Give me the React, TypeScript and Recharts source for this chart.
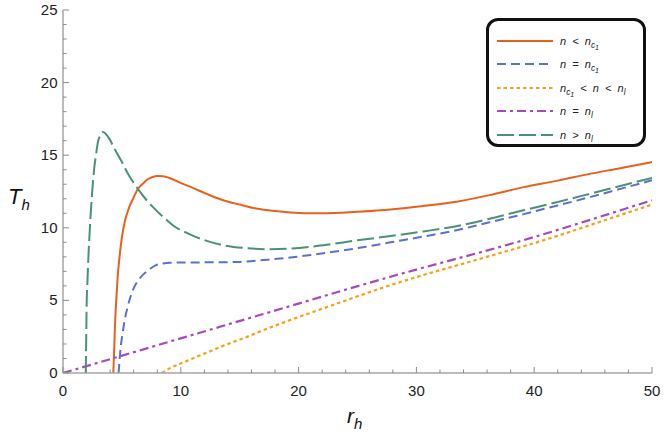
import { LineChart, Line, XAxis, YAxis, Legend, Label } from "recharts";

// n < n_c1
const lessR = [4.27, 4.35, 4.41, 4.52, 4.64, 4.8, 5.01, 5.3, 5.63, 6.0, 6.34, 6.8, 7.19, 7.6, 8.04, 8.5, 9.04, 10.03, 11.02, 12.3, 13.6, 15.0, 16.4, 18.0, 19.3, 20.7, 22.1, 23.5, 25.0, 27.8, 30.6, 33.4, 36.2, 39.1, 42.0, 44.8, 47.4, 50];
const lessT = [0, 1.7, 3.2, 5.0, 6.6, 8.0, 9.4, 10.6, 11.44, 12.1, 12.65, 13.05, 13.34, 13.5, 13.57, 13.55, 13.43, 13.08, 12.75, 12.3, 11.9, 11.6, 11.33, 11.15, 11.05, 11.0, 11.0, 11.03, 11.1, 11.26, 11.5, 11.8, 12.25, 12.8, 13.25, 13.73, 14.12, 14.53];

// n = n_c1
const critR = [4.72, 4.8, 4.9, 5.06, 5.25, 5.49, 5.75, 6.06, 6.45, 6.91, 7.4, 7.9, 8.5, 9.04, 10.0, 12.0, 15.0, 17.0, 19.3, 21.4, 23.5, 25.6, 27.8, 30.6, 33.4, 36.2, 39.1, 42.0, 44.8, 47.4, 50];
const critT = [0, 0.9, 1.8, 2.73, 3.7, 4.56, 5.3, 5.94, 6.45, 6.86, 7.18, 7.43, 7.54, 7.59, 7.61, 7.62, 7.65, 7.78, 7.95, 8.17, 8.41, 8.68, 9.0, 9.4, 9.83, 10.38, 10.94, 11.54, 12.13, 12.7, 13.27];

// n_c1 < n < n_l
const midR = [8.4, 9.0, 10.0, 11.0, 12.5, 14.0, 15.5, 17.0, 19.3, 21.4, 23.5, 25.6, 27.8, 30.6, 33.4, 36.2, 39.1, 42.0, 44.8, 47.4, 50];
const midT = [0, 0.3, 0.65, 1.0, 1.5, 2.0, 2.45, 2.95, 3.65, 4.25, 4.85, 5.45, 6.05, 6.75, 7.4, 8.05, 8.73, 9.45, 10.2, 10.9, 11.6];

// n = n_l
const eqLR = [0, 10.77, 16.7, 27.8, 39.1, 50];
const eqLT = [0, 2.57, 3.99, 6.63, 9.15, 11.9];

// n > n_l
const moreR = [1.93, 1.97, 2.0, 2.08, 2.17, 2.27, 2.37, 2.5, 2.65, 2.8, 2.94, 3.15, 3.36, 3.6, 3.93, 4.4, 4.92, 5.6, 6.34, 7.0, 7.62, 8.5, 9.32, 10.77, 12.2, 13.6, 15.5, 17.3, 19.3, 22.1, 25.0, 27.8, 30.6, 33.4, 36.2, 39.1, 42.0, 44.8, 47.4, 50];
const moreT = [0, 2.3, 4.33, 6.4, 8.23, 9.8, 11.2, 12.7, 14.1, 15.0, 15.8, 16.35, 16.6, 16.5, 16.14, 15.4, 14.65, 13.6, 12.7, 12.0, 11.44, 10.75, 10.18, 9.55, 9.1, 8.8, 8.6, 8.53, 8.57, 8.8, 9.14, 9.43, 9.75, 10.11, 10.62, 11.21, 11.78, 12.36, 12.9, 13.43];

const xTicks = [0, 2, 4, 6, 8, 10, 12, 14, 16, 18, 20, 22, 24, 26, 28, 30, 32, 34, 36, 38, 40, 42, 44, 46, 48, 50];
const yTicks = [0, 1, 2, 3, 4, 5, 6, 7, 8, 9, 10, 11, 12, 13, 14, 15, 16, 17, 18, 19, 20, 21, 22, 23, 24, 25];

const zip = (r: number[], t: number[]) => r.map((v, i) => ({ r: v, T: t[i] }));

const FONT = "'Liberation Sans', Arial, sans-serif";
const TICK = "#8c8c8c";

const series = [
  { key: "less", data: zip(lessR, lessT), color: "#e8611c", dash: undefined, width: 2 },
  { key: "crit", data: zip(critR, critT), color: "#5d6fcf", dash: "9 5", width: 2 },
  { key: "mid", data: zip(midR, midT), color: "#f7a116", dash: "3.5 3", width: 2.2 },
  { key: "eqL", data: zip(eqLR, eqLT), color: "#a848bf", dash: "9 4 3 4", width: 2.2 },
  { key: "more", data: zip(moreR, moreT), color: "#4b9177", dash: "17 5", width: 2 },
];

const Sub = ({ children }: { children: any }) => (
  <span style={{ fontSize: "0.75em", position: "relative", top: "0.35em" }}>{children}</span>
);
const Nc = () => (
  <>
    n
    <Sub>
      c<span style={{ fontSize: "0.85em", position: "relative", top: "0.3em" }}>1</span>
    </Sub>
  </>
);
const Nl = () => (
  <>
    n<Sub>l</Sub>
  </>
);

const labels = [
  <>n&nbsp;&nbsp;&lt;&nbsp;&nbsp;<Nc /></>,
  <>n&nbsp;&nbsp;=&nbsp;&nbsp;<Nc /></>,
  <><Nc />&nbsp;&nbsp;&lt;&nbsp;&nbsp;n&nbsp;&nbsp;&lt;&nbsp;&nbsp;<Nl /></>,
  <>n&nbsp;&nbsp;=&nbsp;&nbsp;<Nl /></>,
  <>n&nbsp;&nbsp;&gt;&nbsp;&nbsp;<Nl /></>,
];

const renderLegend = () => (
  <div
    style={{
      boxSizing: "border-box",
      width: 160,
      height: 129,
      border: "3px solid #111",
      borderRadius: 12,
      background: "#fff",
      padding: "8px 0 0 8px",
      fontFamily: FONT,
      fontStyle: "italic",
      fontSize: 11,
      color: "#222",
    }}
  >
    {series.map((s, i) => (
      <div key={s.key} style={{ display: "flex", alignItems: "center", height: 23.5 }}>
        <svg width={56} height={6} style={{ marginRight: 7 }}>
          <line x1={0} y1={3} x2={56} y2={3} stroke={s.color} strokeWidth={s.width} strokeDasharray={s.dash} />
        </svg>
        <span style={{ whiteSpace: "nowrap" }}>{labels[i]}</span>
      </div>
    ))}
  </div>
);

const BottomTick = (props: any) => {
  const { x, y, payload } = props;
  const major = payload.value % 10 === 0;
  return (
    <g>
      <line x1={x} y1={y} x2={x} y2={y - (major ? 6 : 3.5)} stroke={TICK} />
      {major && (
        <text x={x} y={y + 23} textAnchor="middle" fontFamily={FONT} fontSize={15} fill="#222">
          {payload.value}
        </text>
      )}
    </g>
  );
};
const TopTick = (props: any) => {
  const { x, y, payload } = props;
  const major = payload.value % 10 === 0;
  return <line x1={x} y1={y} x2={x} y2={y + (major ? 6 : 3.5)} stroke={TICK} />;
};
const LeftTick = (props: any) => {
  const { x, y, payload } = props;
  const major = payload.value % 5 === 0;
  return (
    <g>
      <line x1={x} y1={y} x2={x + (major ? 6 : 3.5)} y2={y} stroke={TICK} />
      {major && (
        <text x={x - 5.5} y={y + 5} textAnchor="end" fontFamily={FONT} fontSize={15} fill="#222">
          {payload.value}
        </text>
      )}
    </g>
  );
};
const RightTick = (props: any) => {
  const { x, y, payload } = props;
  const major = payload.value % 5 === 0;
  return <line x1={x} y1={y} x2={x - (major ? 6 : 3.5)} y2={y} stroke={TICK} />;
};

export default function App() {
  return (
    <div style={{ position: "absolute", left: 0, top: 0, width: 664, height: 440, background: "#fff" }}>
      <LineChart width={664} height={440} margin={{ top: 10, right: 12, bottom: 0, left: 0 }}>
        <XAxis
          dataKey="r"
          type="number"
          domain={[0, 50]}
          ticks={xTicks}
          interval={0}
          height={67}
          tickSize={0}
          tickMargin={0}
          tickLine={false}
          stroke="#a6a6a6"
          strokeWidth={1.5}
          tick={<BottomTick />}
          allowDataOverflow
        >
          <Label
            content={() => (
              <text x={347} y={423} fontFamily={FONT} fontStyle="italic" fontSize={21} fill="#111">
                r
                <tspan dy={6} fontSize={15}>h</tspan>
              </text>
            )}
          />
        </XAxis>
        <XAxis
          xAxisId="top"
          orientation="top"
          type="number"
          dataKey="r"
          domain={[0, 50]}
          ticks={xTicks}
          interval={0}
          height={0}
          tickSize={0}
          tickMargin={0}
          tickLine={false}
          stroke="#a6a6a6"
          tick={<TopTick />}
        />
        <YAxis
          type="number"
          domain={[0, 25]}
          ticks={yTicks}
          interval={0}
          width={63}
          tickSize={0}
          tickMargin={0}
          tickLine={false}
          stroke="#a6a6a6"
          strokeWidth={1.5}
          tick={<LeftTick />}
          allowDataOverflow
        >
          <Label
            content={() => (
              <text x={8} y={204} fontFamily={FONT} fontStyle="italic" fontSize={22} fill="#111">
                T
                <tspan dy={6} fontSize={15}>h</tspan>
              </text>
            )}
          />
        </YAxis>
        <YAxis
          yAxisId="right"
          orientation="right"
          type="number"
          domain={[0, 25]}
          ticks={yTicks}
          interval={0}
          width={0}
          tickSize={0}
          tickMargin={0}
          tickLine={false}
          stroke="#a6a6a6"
          tick={<RightTick />}
        />
        {series.map((s) => (
          <Line
            key={s.key}
            data={s.data}
            dataKey="T"
            type="monotone"
            stroke={s.color}
            strokeWidth={s.width}
            strokeDasharray={s.dash}
            dot={false}
            activeDot={false}
            isAnimationActive={false}
          />
        ))}
        <Legend
          layout="horizontal"
          verticalAlign="middle"
          align="center"
          content={renderLegend}
          wrapperStyle={{ left: 486, top: 18, width: 160, height: 129 }}
        />
      </LineChart>
    </div>
  );
}
